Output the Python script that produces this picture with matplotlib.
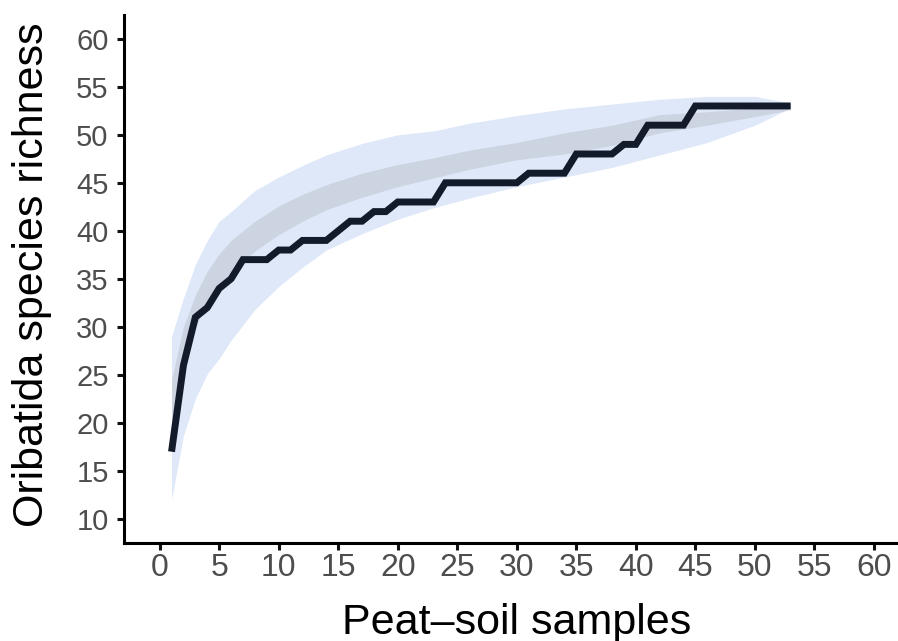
import matplotlib
matplotlib.use("Agg")
import matplotlib.pyplot as plt

# observed accumulation (samples 1..53)
samples = list(range(1, 54))
richness = [17, 26, 31, 32, 34, 35, 37, 37, 37, 38,
            38, 39, 39, 39, 40, 41, 41, 42, 42, 43,
            43, 43, 43, 45, 45, 45, 45, 45, 45, 45,
            46, 46, 46, 46, 48, 48, 48, 48, 49, 49,
            51, 51, 51, 51, 53, 53, 53, 53, 53, 53,
            53, 53, 53]

# ribbons
band_x = [1, 2, 3, 4, 5, 6, 8, 10, 12, 14, 17, 20, 23, 26, 30, 34, 38, 42, 46, 50, 53]
ci_upper = [29.0, 33.0, 36.5, 39.0, 41.0, 42.0, 44.2, 45.6, 46.8, 47.9, 49.1,
            50.0, 50.4, 51.2, 52.0, 52.7, 53.2, 53.7, 54.0, 54.0, 53.3]
ci_lower = [12.0, 18.7, 22.5, 25.1, 26.7, 28.6, 31.8, 34.2, 36.2, 38.0, 39.7,
            41.2, 42.4, 43.4, 44.6, 45.6, 46.6, 47.9, 49.2, 51.0, 52.8]
sd_upper = [24.5, 30.0, 33.3, 35.8, 37.6, 39.0, 41.0, 42.6, 43.8, 44.8, 46.0,
            46.9, 47.6, 48.4, 49.2, 50.2, 51.0, 52.1, 52.4, 52.8, 53.3]
sd_lower = [20.5, 26.5, 30.0, 32.5, 34.3, 35.7, 37.9, 39.6, 41.0, 42.2, 43.5,
            44.6, 45.5, 46.4, 47.4, 48.0, 48.9, 50.2, 51.0, 51.9, 52.6]

x_ticks = list(range(0, 61, 5))
y_ticks = list(range(10, 61, 5))

plt.rcParams["font.family"] = ["Liberation Sans", "DejaVu Sans"]

fig = plt.figure(figsize=(8.98, 6.41), dpi=100)
ax = fig.add_axes([0.138, 0.153, 0.875, 0.824])

ax.fill_between(band_x, ci_lower, ci_upper, color="#dfe8f9", linewidth=0)
ax.fill_between(band_x, sd_lower, sd_upper, color="#888888", alpha=0.21, linewidth=0)
ax.plot(samples, richness, color="#131b2b", linewidth=5, solid_capstyle="butt",
        solid_joinstyle="miter")

ax.set_xlim(-3, 63)
ax.set_ylim(7.5, 62.5)
ax.set_xticks(x_ticks)
ax.set_yticks(y_ticks)

for side in ("top", "right"):
    ax.spines[side].set_visible(False)
for side in ("left", "bottom"):
    ax.spines[side].set_linewidth(2.2)
ax.tick_params(axis="both", length=5, width=2.2, colors="#111111", labelcolor="#4d4d4d")
ax.tick_params(axis="x", labelsize=23, pad=2)
ax.tick_params(axis="y", labelsize=21, pad=6)

ax.set_xlabel("Peat\u2013soil samples", fontsize=31, va="top")
ax.set_ylabel("Oribatida species richness", fontsize=31)
ax.xaxis.set_label_coords(0.5, -0.113)
ax.yaxis.set_label_coords(-0.092, 0.507)

fig.savefig("out.png", dpi=100)
